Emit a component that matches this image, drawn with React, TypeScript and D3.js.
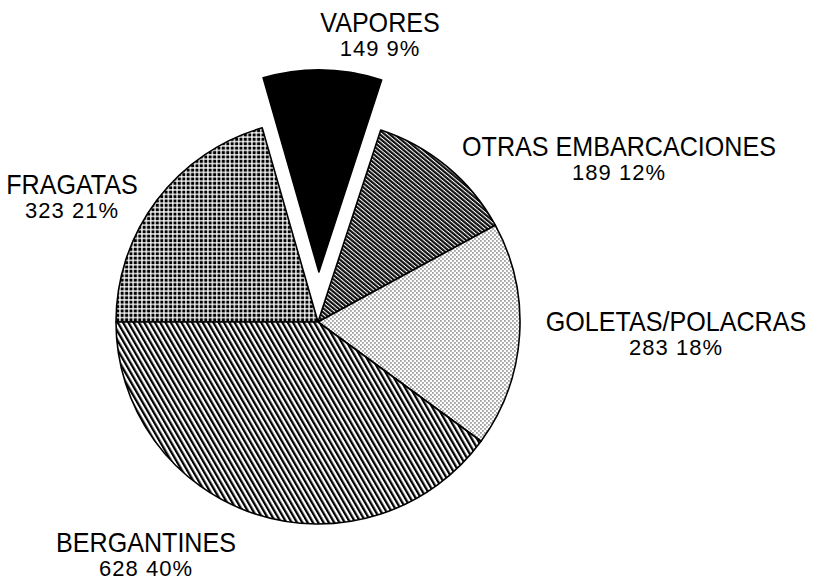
import React from "react";
import * as d3 from "d3";

// data
const categories = ["FRAGATAS", "VAPORES", "OTRAS EMBARCACIONES", "GOLETAS/POLACRAS", "BERGANTINES"];
const counts = [323, 149, 189, 283, 628];
const percents = [21, 9, 12, 18, 40];

const width = 821;
const height = 581;
const cx = 318;
const cy = 322;
const radius = 202;
const explode = 50;

// fill pattern per slice, label anchor (center x, baseline y of the name line)
const fills = ["url(#p-frag)", "#000", "url(#p-otras)", "url(#p-gol)", "url(#p-berg)"];
const labelPos: [number, number][] = [
  [72, 194],
  [380, 32],
  [619, 156],
  [676, 331],
  [146, 552],
];

export default function App() {
  const pie = d3
    .pie<number>()
    .sort(null)
    .startAngle(-Math.PI / 2)
    .endAngle((3 * Math.PI) / 2);
  const arcs = pie(counts);
  const arc = d3.arc<d3.PieArcDatum<number>>().innerRadius(0).outerRadius(radius);

  return (
    <svg
      width={width}
      height={height}
      style={{ position: "absolute", left: 0, top: 0, background: "#fff" }}
      fontFamily="'Liberation Sans', Arial, Helvetica, sans-serif"
    >
      <defs>
        <pattern id="p-frag" width={4.4} height={4.4} patternUnits="userSpaceOnUse">
          <rect width={4.4} height={4.4} fill="#fff" />
          <rect x={0.6} y={0.6} width={3.1} height={3.1} fill="#000" />
        </pattern>
        <pattern id="p-otras" width={3.2} height={3.2} patternUnits="userSpaceOnUse" patternTransform="rotate(40)">
          <rect width={3.2} height={3.2} fill="#111" />
          <rect y={0} width={3.2} height={1} fill="#fff" />
        </pattern>
        <pattern id="p-gol" width={4} height={4} patternUnits="userSpaceOnUse">
          <rect width={4} height={4} fill="#fff" />
          <rect x={0.4} y={0.4} width={1.1} height={1.1} fill="#000" />
          <rect x={2.4} y={2.4} width={1.1} height={1.1} fill="#000" />
        </pattern>
        <pattern id="p-berg" width={4.6} height={4.6} patternUnits="userSpaceOnUse" patternTransform="rotate(-30)">
          <rect width={4.6} height={4.6} fill="#fff" />
          <rect x={0} width={2.3} height={4.6} fill="#000" />
        </pattern>
      </defs>

      <g transform={`translate(${cx},${cy})`}>
        {arcs.map((a, i) => {
          const mid = (a.startAngle + a.endAngle) / 2;
          const off = i === 1 ? explode : 0;
          const dx = Math.sin(mid) * off;
          const dy = -Math.cos(mid) * off;
          return (
            <path
              key={categories[i]}
              d={arc(a) || ""}
              transform={`translate(${dx},${dy})`}
              fill={fills[i]}
              stroke="#000"
              strokeWidth={1.6}
              strokeLinejoin="round"
            />
          );
        })}
      </g>

      {categories.map((c, i) => (
        <g key={c} transform={`translate(${labelPos[i][0]},${labelPos[i][1]})`} textAnchor="middle" fill="#000">
          <text fontSize={27} transform="scale(0.93,1)">{c}</text>
          <text y={24} fontSize={22} letterSpacing={1}>
            {counts[i]} {percents[i]}%
          </text>
        </g>
      ))}
    </svg>
  );
}
